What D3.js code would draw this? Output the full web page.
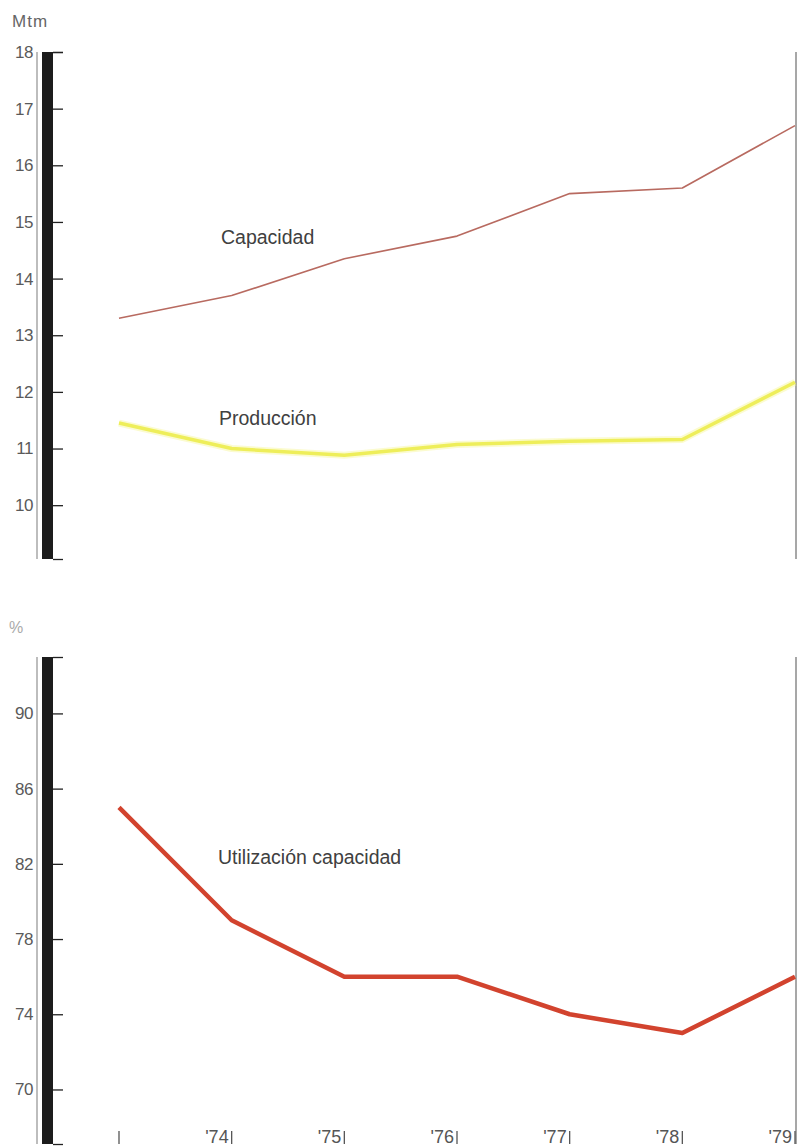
<!DOCTYPE html>
<html>
<head>
<meta charset="utf-8">
<script src="https://cdn.jsdelivr.net/npm/d3@7"></script>
<style>
  html, body { margin: 0; padding: 0; background: #fff; }
  svg { display: block; }
</style>
</head>
<body>
<script>
const categories = ["1973", "1974", "1975", "1976", "1977", "1978", "1979"];
const xLabels = ["", "'74", "'75", "'76", "'77", "'78", "'79"];
const capacidad = [13.3, 13.7, 14.35, 14.75, 15.5, 15.6, 16.7];
const produccion = [11.45, 11.0, 10.88, 11.07, 11.13, 11.16, 12.17];
const utilizacion = [85, 79, 76, 76, 74, 73, 76];
const topTicks = [10, 11, 12, 13, 14, 15, 16, 17, 18];
const bottomTicks = [70, 74, 78, 82, 86, 90];

const W = 803, H = 1147;
const svg = d3.select("body").append("svg").attr("width", W).attr("height", H);
svg.append("rect").attr("width", W).attr("height", H).attr("fill", "#fff");

const FONT = "'Liberation Sans', Arial, sans-serif";

const x = d3.scalePoint().domain(categories).range([119, 795]);
const yTop = d3.scaleLinear().domain([9.05, 18]).range([559, 52]);
const yBot = d3.scaleLinear().domain([67.1, 93]).range([1144, 657]);

function panel(y, ticks, unit, unitY) {
  const [y0, y1] = y.range();
  const g = svg.append("g");
  g.append("line").attr("x1", 37).attr("x2", 37).attr("y1", y1).attr("y2", y0)
    .attr("stroke", "#9a9a9a").attr("stroke-width", 1.3);
  g.append("rect").attr("x", 42).attr("y", y1).attr("width", 11).attr("height", y0 - y1)
    .attr("fill", "#1c1c1c");
  g.append("line").attr("x1", 796).attr("x2", 796).attr("y1", y1).attr("y2", y0)
    .attr("stroke", "#8a8a8a").attr("stroke-width", 1.5);
  const tickAxis = d3.axisRight(y).tickValues(ticks.concat(y.domain())).tickSize(10).tickFormat("");
  const ta = g.append("g").attr("transform", "translate(53,0)").call(tickAxis);
  ta.select(".domain").remove();
  ta.selectAll(".tick line").attr("stroke", "#222").attr("stroke-width", 1.3);
  const labAxis = d3.axisLeft(y).tickValues(ticks).tickSize(0).tickPadding(0);
  const la = g.append("g").attr("transform", "translate(33,0)").call(labAxis);
  la.select(".domain").remove();
  la.selectAll(".tick text").attr("font-family", FONT).attr("font-size", 17)
    .attr("fill", "#5a5a5a").attr("letter-spacing", -0.5);
  svg.append("text").attr("x", unit === "Mtm" ? 12 : 9).attr("y", unitY).text(unit)
    .attr("font-family", FONT).attr("font-size", unit === "Mtm" ? 17 : 16)
    .attr("letter-spacing", unit === "Mtm" ? 1 : 0)
    .attr("fill", unit === "Mtm" ? "#666" : "#aaa");
}

panel(yTop, topTicks, "Mtm", 27);
panel(yBot, bottomTicks, "%", 633);

const xa = svg.append("g");
categories.forEach((c, i) => {
  const px = x(c);
  xa.append("line").attr("x1", px).attr("x2", px).attr("y1", 1131).attr("y2", 1144)
    .attr("stroke", "#555").attr("stroke-width", 1.3);
  if (xLabels[i]) {
    xa.append("text").attr("x", px - 3).attr("y", 1143).attr("text-anchor", "end")
      .text(xLabels[i]).attr("font-family", FONT).attr("font-size", 18)
      .attr("fill", "#555").attr("letter-spacing", 0);
  }
});

function drawLine(values, y, color, width, opacity) {
  const line = d3.line().x((d, i) => x(categories[i])).y(d => y(d));
  svg.append("path").datum(values).attr("d", line)
    .attr("fill", "none").attr("stroke", color).attr("stroke-width", width)
    .attr("stroke-linejoin", "round").attr("stroke-opacity", opacity);
}

drawLine(capacidad, yTop, "#b86a60", 1.6, 1);
drawLine(produccion, yTop, "#f4f48a", 7, 0.4);
drawLine(produccion, yTop, "#eeee5a", 3.5, 1);
drawLine(utilizacion, yBot, "#d2432e", 4.5, 1);

function label(txt, lx, ly) {
  svg.append("text").attr("x", lx).attr("y", ly).text(txt)
    .attr("font-family", FONT).attr("font-size", 19.5).attr("fill", "#404040");
}
label("Capacidad", 221, 244);
label("Producción", 219, 425);
label("Utilización capacidad", 218, 864);
</script>
</body>
</html>
